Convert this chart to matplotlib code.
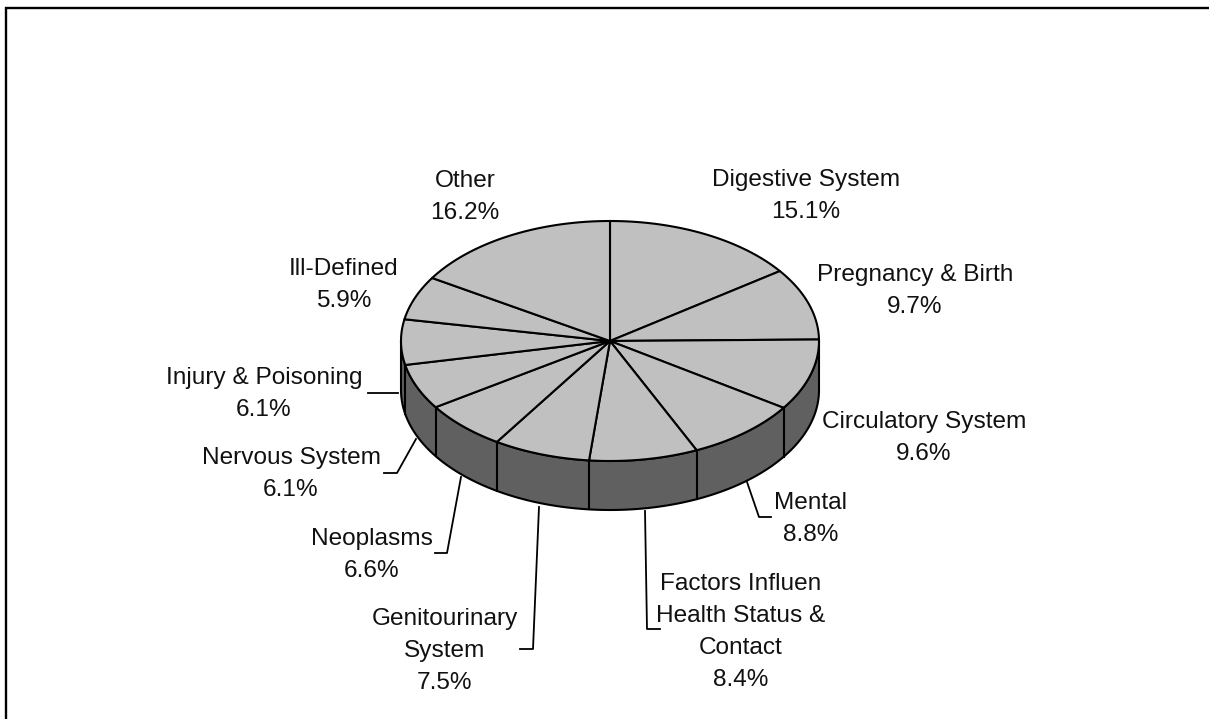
import numpy as np
import matplotlib
matplotlib.use('Agg')
import matplotlib.pyplot as plt
from matplotlib.patches import Polygon

plt.rcParams['font.family'] = ['Liberation Sans', 'DejaVu Sans']

labels = ['Digestive System', 'Pregnancy & Birth', 'Circulatory System', 'Mental',
          'Factors Influen\nHealth Status &\nContact', 'Genitourinary\nSystem', 'Neoplasms',
          'Nervous System', 'Injury & Poisoning', 'Ill-Defined', 'Other']
shares = [15.1, 9.7, 9.6, 8.8, 8.4, 7.5, 6.6, 6.1, 6.1, 5.9, 16.2]

# label centres in pixels
label_x = [806, 915, 924, 811, 741, 445, 372, 291, 264, 344, 465]
label_y = [196, 291, 438, 519, 632, 651, 555, 474, 394, 285, 197]

# leader lines in pixels
leaders = [
    [(368, 393), (398, 393)],
    [(384, 473), (397, 473), (416, 439)],
    [(435, 553), (447, 553), (461, 477)],
    [(520, 649), (533, 649), (539, 507)],
    [(660, 629), (647, 629), (645, 511)],
    [(771, 517), (759, 517), (747, 482)],
]

W, H = 1209, 719
cx, cy, rx, ry, depth = 610, 341, 209, 120, 49
top_col = '#c0c0c0'
side_col = '#606060'

fig = plt.figure(figsize=(W / 100, H / 100), dpi=100)
ax = fig.add_axes([0, 0, 1, 1])
ax.set_xlim(0, W)
ax.set_ylim(H, 0)
ax.axis('off')

# frame, only the left and top edges are in the image
ax.plot([6, 6, W + 5], [H + 5, 8, 8], color='black', lw=1.7, solid_joinstyle='miter')


def ell(t):
    # t is degrees clockwise from north
    t = np.radians(t)
    return cx + rx * np.sin(t), cy - ry * np.cos(t)


edges = np.concatenate([[0], np.cumsum(shares)]) * 3.6
edges[-1] = 360

# side wall, only the front half shows
t = np.linspace(90, 270, 200)
x, y = ell(t)
wall = np.vstack([np.column_stack([x, y]), np.column_stack([x, y + depth])[::-1]])
ax.add_patch(Polygon(wall, closed=True, facecolor=side_col, edgecolor='black', lw=1.5, zorder=1))
for e in edges:
    if 90 < e < 270:
        x0, y0 = ell(e)
        ax.plot([x0, x0], [y0, y0 + depth], color='black', lw=1.5, zorder=2)

# top slices
for a, b in zip(edges[:-1], edges[1:]):
    t = np.linspace(a, b, 80)
    x, y = ell(t)
    pts = np.vstack([[cx, cy], np.column_stack([x, y])])
    ax.add_patch(Polygon(pts, closed=True, facecolor=top_col, edgecolor='black', lw=1.5,
                         joinstyle='round', zorder=3))

for line in leaders:
    xs, ys = zip(*line)
    ax.plot(xs, ys, color='black', lw=1.3, zorder=4)

for name, s, x0, y0 in zip(labels, shares, label_x, label_y):
    ax.text(x0, y0, f'{name}\n{s:.1f}%', ha='center', va='center', fontsize=17.6,
            color='#111111', linespacing=1.58, zorder=5)

fig.savefig('out.png', dpi=100)
